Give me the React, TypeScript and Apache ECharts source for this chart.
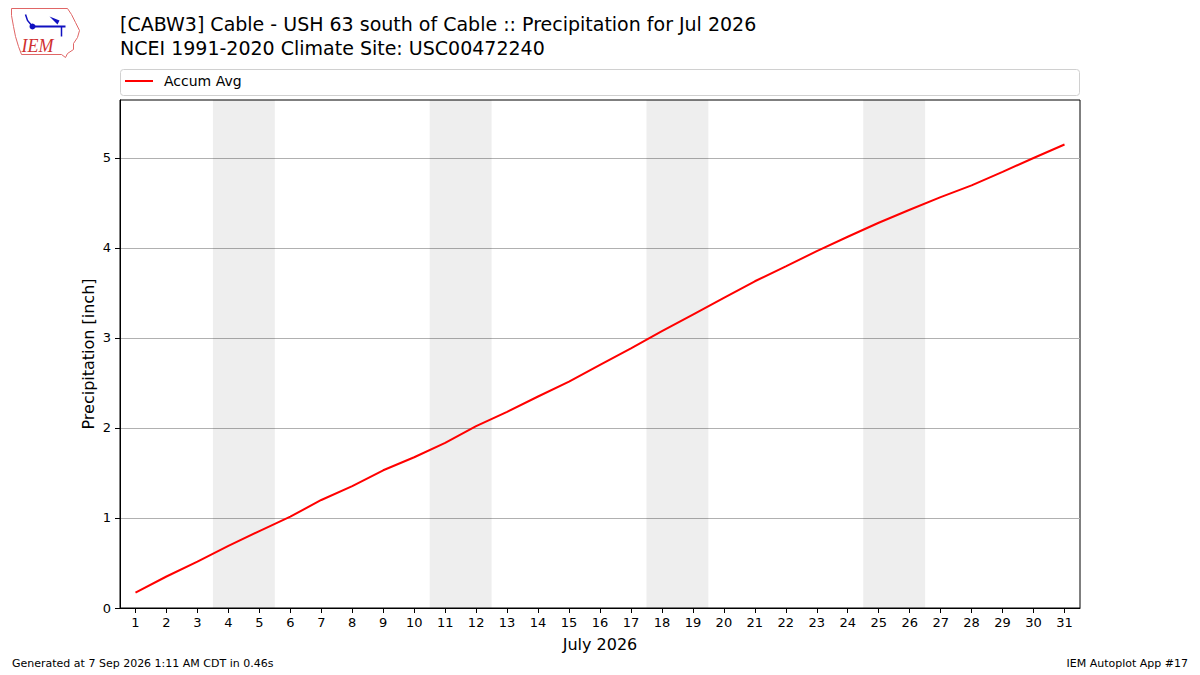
import { useEffect, useRef } from "react"
import * as echarts from "echarts"

const days = Array.from({ length: 31 }, (_, i) => i + 1)
const accumAvg = [
  0.17, 0.35, 0.515, 0.69, 0.855, 1.015, 1.2, 1.355, 1.53, 1.675, 1.835, 2.02,
  2.18, 2.35, 2.515, 2.7, 2.885, 3.075, 3.26, 3.445, 3.63, 3.795, 3.965, 4.125,
  4.28, 4.425, 4.565, 4.695, 4.845, 5.0, 5.15,
]
const weekends: [number, number][] = [
  [3.5, 5.5],
  [10.5, 12.5],
  [17.5, 19.5],
  [24.5, 26.5],
]
const yTicks = [0, 1, 2, 3, 4, 5]

const titleLines = [
  "[CABW3] Cable - USH 63 south of Cable :: Precipitation for Jul 2026",
  "NCEI 1991-2020 Climate Site: USC00472240",
]
const footerLeft = "Generated at 7 Sep 2026 1:11 AM CDT in 0.46s"
const footerRight = "IEM Autoplot App #17"

const FONT = "DejaVu Sans, sans-serif"

export default function App() {
  const hostRef = useRef<HTMLDivElement>(null)

  useEffect(() => {
    document.body.style.margin = "0"
    const el = hostRef.current
    if (!el) return
    const chart = echarts.init(el, undefined, { renderer: "svg" })

    chart.setOption({
      animation: false,
      backgroundColor: "#fff",
      textStyle: { fontFamily: FONT },
      grid: {
        left: 120,
        right: 120,
        top: 100,
        bottom: 67,
        show: true,
        borderColor: "#000",
        borderWidth: 1,
        backgroundColor: "transparent",
      },
      legend: {
        left: 120,
        top: 69,
        icon: "rect",
        itemWidth: 28,
        itemHeight: 2,
        itemGap: 10,
        textStyle: {
          fontFamily: FONT,
          fontSize: 14,
          color: "#000",
          padding: [0, 0, 0, 6],
        },
        data: ["Accum Avg"],
      },
      xAxis: {
        type: "value",
        min: 0.5,
        max: 31.5,
        name: "July 2026",
        nameLocation: "middle",
        nameGap: 28,
        nameTextStyle: { fontFamily: FONT, fontSize: 16, color: "#000" },
        axisLine: { show: true, lineStyle: { color: "#000", width: 1 } },
        axisTick: {
          show: true,
          length: 5,
          customValues: days,
          lineStyle: { color: "#000" },
        },
        axisLabel: {
          customValues: days,
          margin: 8,
          fontFamily: FONT,
          fontSize: 13,
          color: "#000",
        },
        splitLine: { show: false },
      },
      yAxis: {
        type: "value",
        min: 0,
        max: 5.644,
        interval: 1,
        name: "Precipitation [inch]",
        nameLocation: "middle",
        nameGap: 24,
        nameMoveOverlap: false,
        nameTextStyle: { fontFamily: FONT, fontSize: 16, color: "#000" },
        axisLine: { show: true, lineStyle: { color: "#000", width: 1 } },
        axisTick: {
          show: true,
          length: 5,
          customValues: yTicks,
          lineStyle: { color: "#000" },
        },
        axisLabel: {
          customValues: yTicks,
          margin: 9,
          fontFamily: FONT,
          fontSize: 13,
          color: "#000",
        },
        splitLine: { show: true, lineStyle: { color: "#b0b0b0", width: 1 } },
      },
      series: [
        {
          type: "line",
          name: "weekends",
          data: [],
          silent: true,
          markArea: {
            silent: true,
            itemStyle: { color: "rgba(0,0,0,0.067)" },
            data: weekends.map(([a, b]) => [{ xAxis: a }, { xAxis: b }]),
          },
        },
        {
          type: "line",
          name: "Accum Avg",
          data: days.map((d, i) => [d, accumAvg[i]]),
          showSymbol: false,
          symbol: "none",
          lineStyle: { color: "#ff0000", width: 2 },
          itemStyle: { color: "#ff0000" },
          z: 3,
        },
      ],
      graphic: [
        {
          type: "rect",
          shape: { x: 120.5, y: 69.5, width: 959, height: 26, r: 3 },
          style: { fill: "#fff", stroke: "#d0d0d0", lineWidth: 1 },
          z: 0,
        },
        ...titleLines.map((t, i) => ({
          type: "text",
          left: 120,
          top: 14 + i * 24,
          style: { text: t, fontFamily: FONT, fontSize: 19, fill: "#000" },
        })),
        {
          type: "text",
          left: 12,
          top: 658,
          style: { text: footerLeft, fontFamily: FONT, fontSize: 11, fill: "#000" },
        },
        {
          type: "text",
          right: 12,
          top: 658,
          style: { text: footerRight, fontFamily: FONT, fontSize: 11, fill: "#000" },
        },
        {
          type: "group",
          left: 9,
          top: 6,
          children: [
            {
              type: "polygon",
              shape: {
                points: [
                  [2, 2], [58, 2], [62, 8], [66, 16], [70, 24], [68, 31],
                  [64, 37], [64, 43], [58, 47], [56, 51], [52, 48], [12, 48],
                  [9, 40], [6, 30], [4, 20], [2, 9],
                ],
              },
              style: { fill: "none", stroke: "#e06666", lineWidth: 1 },
            },
            {
              type: "line",
              shape: { x1: 22, y1: 20, x2: 56, y2: 20 },
              style: { stroke: "#1010c0", lineWidth: 2 },
            },
            {
              type: "circle",
              shape: { cx: 23, cy: 20, r: 3 },
              style: { fill: "#1010c0" },
            },
            {
              type: "polyline",
              shape: { points: [[16, 8], [18, 14], [23, 20]] },
              style: { stroke: "#1010c0", lineWidth: 1.5, fill: "none" },
            },
            {
              type: "polygon",
              shape: { points: [[40, 10], [50, 14], [48, 18], [44, 14]] },
              style: { fill: "#1010c0" },
            },
            {
              type: "line",
              shape: { x1: 52, y1: 20, x2: 52, y2: 30 },
              style: { stroke: "#1010c0", lineWidth: 1.5 },
            },
            {
              type: "text",
              x: 12,
              y: 30,
              style: {
                text: "IEM",
                fontFamily: "Liberation Serif, serif",
                fontStyle: "italic",
                fontSize: 18,
                fill: "#d03030",
              },
            },
          ],
        },
      ],
    })

    return () => {
      chart.dispose()
    }
  }, [])

  return <div ref={hostRef} style={{ width: 1200, height: 675 }} />
}
